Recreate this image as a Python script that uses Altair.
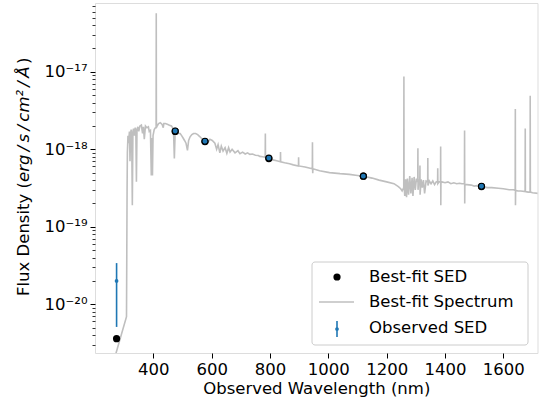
import math
import altair as alt
import pandas as pd

# ---------------- data ----------------
sed_wl = [274, 475, 577, 796, 1120, 1525]
obs_flux = [2.0e-20, 1.72e-18, 1.27e-18, 7.7e-19, 4.5e-19, 3.33e-19]
obs_lo = [5.1e-21, 1.67e-18, 1.24e-18, 7.5e-19, 4.4e-19, 3.26e-19]
obs_hi = [3.4e-20, 1.77e-18, 1.30e-18, 7.9e-19, 4.6e-19, 3.40e-19]
fit_flux = [3.6e-21, 1.70e-18, 1.26e-18, 7.6e-19, 4.5e-19, 3.30e-19]

spec_wl = [
    270, 308, 310, 311, 313, 315, 318, 320, 322, 324,
    326, 328, 330, 332, 335, 338, 340, 342, 344, 347,
    350, 354, 359, 363, 366, 369, 373, 378, 383, 386,
    390, 393, 395, 397, 399, 403, 407, 409.5, 410, 410.5,
    413, 418, 424, 430, 434, 436, 441, 448, 455, 462,
    466, 469, 472, 475, 480, 486, 492, 497, 502, 507,
    512, 517, 521, 526, 532, 538, 545, 552, 560, 568,
    577, 586, 594, 602, 611, 617, 622, 628, 633, 639,
    646, 652, 658, 663, 670, 680, 690, 697, 706, 715,
    723, 731, 740, 750, 760, 765, 775, 783.5, 784, 784.5,
    796, 810, 823, 835.5, 836, 836.5, 850, 867, 880, 897.5,
    898, 898.5, 920, 945, 945.5, 946, 946.5, 947, 970, 1004,
    1040, 1072, 1100, 1120, 1150, 1174, 1200, 1225, 1240, 1248,
    1253, 1258.5, 1259, 1259.5, 1262, 1265, 1268, 1271, 1275, 1279,
    1283, 1287, 1290, 1294, 1298, 1302, 1306.5, 1307, 1307.5, 1310,
    1313.5, 1314, 1314.5, 1318, 1322, 1326, 1330, 1335, 1340.5, 1341,
    1341.5, 1346, 1352, 1358, 1364, 1370, 1374.5, 1375, 1375.5, 1380,
    1384.5, 1385, 1385.5, 1386, 1390, 1400, 1410, 1420, 1430, 1440,
    1450, 1458, 1466.5, 1467, 1467.5, 1468, 1475, 1490, 1500, 1510,
    1525, 1545, 1560, 1583, 1600, 1620, 1635, 1640.5, 1641, 1641.5,
    1642, 1650, 1660, 1674.5, 1675, 1675.5, 1685, 1691.5, 1692, 1692.5,
    1700, 1720,
]
spec_flux = [
    2.2e-21, 6.9e-21, 3.0e-19, 9.0e-19, 1.5e-18, 1.2e-18, 1.7e-18, 7.0e-19, 1.6e-18, 1.8e-18,
    1.2e-18, 1.9e-19, 1.7e-18, 1.85e-18, 1.5e-18, 1.9e-18, 1.75e-18, 3.8e-19, 1.8e-18, 1.95e-18,
    1.7e-18, 2.0e-18, 2.05e-18, 1.6e-18, 1.95e-18, 1.35e-18, 2.0e-18, 1.9e-18, 1.95e-18, 1.7e-18,
    1.75e-18, 4.6e-19, 1.4e-18, 4.6e-19, 1.5e-18, 1.8e-18, 1.9e-18, 1.9e-18, 5.7e-17, 1.9e-18,
    2.0e-18, 2.15e-18, 2.2e-18, 2.1e-18, 1.9e-18, 2.15e-18, 2.15e-18, 2.1e-18, 2.05e-18, 2.0e-18,
    1.9e-18, 1.85e-18, 7.6e-19, 1.75e-18, 1.7e-18, 1.6e-18, 1.6e-18, 1.5e-18, 1.4e-18, 1.3e-18,
    1.2e-18, 9.7e-19, 1.3e-18, 1.45e-18, 1.55e-18, 1.6e-18, 1.6e-18, 1.55e-18, 1.45e-18, 1.35e-18,
    1.27e-18, 1.2e-18, 1.35e-18, 1.3e-18, 1.2e-18, 1.0e-18, 1.15e-18, 9.0e-19, 1.1e-18, 9.5e-19,
    1.05e-18, 8.9e-19, 1.05e-18, 9.2e-19, 1.0e-18, 9.0e-19, 9.6e-19, 8.8e-19, 9.2e-19, 8.7e-19,
    9.0e-19, 8.6e-19, 8.7e-19, 8.4e-19, 8.3e-19, 8.1e-19, 8.0e-19, 7.9e-19, 1.6e-18, 7.9e-19,
    7.6e-19, 7.3e-19, 7.1e-19, 6.9e-19, 9.2e-19, 6.9e-19, 6.7e-19, 6.5e-19, 6.3e-19, 6.1e-19,
    7.9e-19, 6.1e-19, 5.9e-19, 5.6e-19, 1.23e-18, 5.6e-19, 4.9e-19, 5.6e-19, 5.3e-19, 5.0e-19,
    4.85e-19, 4.75e-19, 4.6e-19, 4.5e-19, 4.25e-19, 4.0e-19, 3.8e-19, 3.6e-19, 3.3e-19, 3.1e-19,
    2.9e-19, 3.2e-19, 8.7e-18, 3.5e-19, 2.5e-19, 4.1e-19, 2.4e-19, 4.2e-19, 2.6e-19, 4.5e-19,
    2.7e-19, 4.3e-19, 2.5e-19, 4.4e-19, 3.0e-19, 4.2e-19, 3.8e-19, 1.03e-18, 3.0e-19, 4.0e-19,
    3.9e-19, 6.2e-19, 2.6e-19, 4.1e-19, 3.2e-19, 4.0e-19, 2.7e-19, 3.9e-19, 3.8e-19, 7.7e-19,
    3.4e-19, 3.9e-19, 3.6e-19, 3.9e-19, 3.5e-19, 3.8e-19, 3.8e-19, 5.7e-19, 3.6e-19, 3.8e-19,
    3.8e-19, 1.09e-18, 1.9e-19, 3.7e-19, 3.8e-19, 3.7e-19, 3.8e-19, 3.6e-19, 3.7e-19, 3.6e-19,
    3.65e-19, 3.6e-19, 3.6e-19, 1.75e-18, 2.0e-19, 3.5e-19, 3.5e-19, 3.45e-19, 3.35e-19, 3.4e-19,
    3.3e-19, 3.2e-19, 3.2e-19, 3.15e-19, 3.1e-19, 3.0e-19, 3.0e-19, 2.95e-19, 3.3e-18, 1.9e-19,
    2.95e-19, 2.9e-19, 2.9e-19, 2.85e-19, 1.86e-18, 2.85e-19, 2.8e-19, 2.8e-19, 4.9e-18, 2.8e-19,
    2.75e-19, 2.7e-19,
]

x_ticks = [400, 600, 800, 1000, 1200, 1400, 1600]
y_major = [1e-20, 1e-19, 1e-18, 1e-17]
y_major_labels = ["10⁻²⁰", "10⁻¹⁹", "10⁻¹⁸", "10⁻¹⁷"]
y_minor = [3e-21, 4e-21, 5e-21, 6e-21, 7e-21, 8e-21, 9e-21,
           2e-20, 3e-20, 4e-20, 5e-20, 6e-20, 7e-20, 8e-20, 9e-20,
           2e-19, 3e-19, 4e-19, 5e-19, 6e-19, 7e-19, 8e-19, 9e-19,
           2e-18, 3e-18, 4e-18, 5e-18, 6e-18, 7e-18, 8e-18, 9e-18,
           2e-17, 3e-17, 4e-17, 5e-17, 6e-17, 7e-17]
legend_labels = ["Best-fit SED", "Best-fit Spectrum", "Observed SED"]

x_title = "Observed Wavelength (nm)"
THIN = "\u2009"
y_title_parts = ["Flux Density (",
                 "erg" + THIN + "/" + THIN + "s" + THIN + "/" + THIN + "cm²" + THIN + "/" + THIN + "Å",
                 ")"]

FONT = "DejaVu Sans"
FS = 16.5
GRAY = "#bfbfbf"
BLUE = "#1f77b4"

spec = pd.DataFrame({"wl": spec_wl, "flux": spec_flux})
sed = pd.DataFrame({"wl": sed_wl, "obs": obs_flux, "lo": obs_lo,
                    "hi": obs_hi, "fit": fit_flux, "i": list(range(len(sed_wl)))})

xs = alt.Scale(domain=[200, 1717], nice=False, zero=False)
ys = alt.Scale(type="log", domain=[2.35e-21, 7.73e-17], nice=False)

label_expr = ""
for v, lab in zip(y_major, y_major_labels):
    label_expr += f"abs(log(datum.value)/LN10 - ({round(math.log10(v))})) < 0.01 ? '{lab}' : "
label_expr += "''"

x_axis = alt.Axis(values=x_ticks, title=x_title, grid=False, domain=False,
                  tickColor="black", tickSize=5, tickWidth=1, labelPadding=3,
                  labelFont=FONT, labelFontSize=FS, labelColor="black",
                  titleFont=FONT, titleFontSize=FS, titleFontWeight="normal",
                  titleColor="black", titlePadding=3, format="d", orient="bottom")
y_axis_major = alt.Axis(values=y_major, labelExpr=label_expr, title=None, grid=False,
                        domain=False, tickColor="black", tickSize=5, tickWidth=1,
                        labelPadding=3, labelFont=FONT, labelFontSize=FS,
                        labelColor="black", orient="left")
y_axis_minor = alt.Axis(values=y_minor, labels=False, title=None, grid=False,
                        domain=False, tickColor="black", tickSize=3, tickWidth=0.8,
                        orient="left")

X = alt.X("wl:Q", scale=xs, axis=x_axis)

line = alt.Chart(spec).mark_line(color=GRAY, strokeWidth=1.6, clip=True).encode(
    x=X, y=alt.Y("flux:Q", scale=ys, axis=y_axis_major),
)

fit_pts = alt.Chart(sed).mark_point(filled=True, color="black", size=52, opacity=1).encode(
    x=X, y=alt.Y("fit:Q", scale=ys, axis=y_axis_minor),
)

err = alt.Chart(sed).mark_rule(color=BLUE, strokeWidth=1.6).encode(
    x=X, y=alt.Y("lo:Q", scale=ys, axis=None), y2="hi:Q",
)

obs_big = alt.Chart(sed).transform_filter("datum.i > 0").mark_point(
    filled=True, fill=BLUE, stroke="black", strokeWidth=1.1, size=36, opacity=1
).encode(x=X, y=alt.Y("obs:Q", scale=ys, axis=None))
obs_small = alt.Chart(sed).transform_filter("datum.i == 0").mark_point(
    filled=True, color=BLUE, size=14, opacity=1
).encode(x=X, y=alt.Y("obs:Q", scale=ys, axis=None))

# y-axis title pieces (regular / italic, rotated)
one = pd.DataFrame({"k": [0]})


def ytext(txt, ypos, italic=False):
    kw = dict(fontStyle="italic") if italic else {}
    return alt.Chart(one).mark_text(text=txt, angle=270, align="left",
                                    baseline="alphabetic", font=FONT, fontSize=FS,
                                    color="black", **kw).encode(
        x=alt.value(-66), y=alt.value(ypos))


yt1 = ytext(y_title_parts[0], 293)
yt2 = ytext(y_title_parts[1], 179, italic=True)
yt3 = ytext(y_title_parts[2], 61)

# legend
leg_box = alt.Chart(one).mark_rect(fill="white", fillOpacity=0.8, stroke="#cccccc",
                                   strokeWidth=1, cornerRadius=3).encode(
    x=alt.value(217), x2=alt.value(433), y=alt.value(259), y2=alt.value(342))
leg_dot = alt.Chart(one).mark_point(filled=True, color="black", size=52, opacity=1).encode(
    x=alt.value(242), y=alt.value(274))
leg_line = alt.Chart(one).mark_rule(color=GRAY, strokeWidth=1.6).encode(
    x=alt.value(224), x2=alt.value(259), y=alt.value(299))
leg_err = alt.Chart(one).mark_rule(color=BLUE, strokeWidth=1.6).encode(
    x=alt.value(242), y=alt.value(318), y2=alt.value(334))
leg_err_dot = alt.Chart(one).mark_point(filled=True, color=BLUE, size=14, opacity=1).encode(
    x=alt.value(242), y=alt.value(326))
leg_texts = [
    alt.Chart(one).mark_text(text=lab, align="left", baseline="middle", font=FONT,
                             fontSize=FS, color="black").encode(
        x=alt.value(274), y=alt.value(yy))
    for lab, yy in zip(legend_labels, [274, 299, 325])
]

chart = alt.layer(
    line, fit_pts, err, obs_small, obs_big, yt1, yt2, yt3,
    leg_box, leg_dot, leg_line, leg_err, leg_err_dot, *leg_texts
).resolve_axis(y="independent").properties(
    width=442.5, height=350,
    padding={"left": 95, "top": 3, "right": 5.5, "bottom": 52},
    autosize=alt.AutoSizeParams(type="none"),
).configure_view(stroke="black", strokeWidth=1.1).configure(background="white")

chart.save("out.html", embed_options={"renderer": "svg", "actions": False})
